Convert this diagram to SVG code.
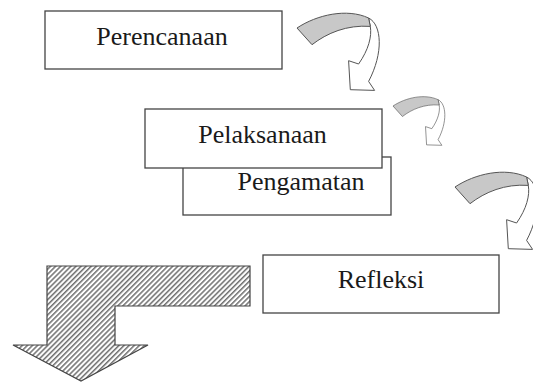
<svg xmlns="http://www.w3.org/2000/svg" xmlns:xlink="http://www.w3.org/1999/xlink" width="533" height="383" viewBox="0 0 533 383">
<style>
.box{fill:#fff;stroke:#444;stroke-width:1.3}
.lbl{font-family:"Liberation Serif","Times New Roman",serif;font-size:26px;fill:#1a1a1a;text-anchor:middle}
.band{fill:#c8c8c8;stroke:#555;stroke-width:1}
.shaft{fill:#fff;stroke:#555;stroke-width:1;stroke-linejoin:miter}
</style>
<defs>
<pattern id="hatch" width="3.6" height="3.6" patternUnits="userSpaceOnUse" patternTransform="rotate(45)">
<rect width="3.6" height="3.6" fill="#fff"/>
<line x1="0.8" y1="0" x2="0.8" y2="3.6" stroke="#3a3a3a" stroke-width="1.1"/>
</pattern>
<g id="curl">
<path class="shaft" d="M71.6,-10 C85,-3.3 86.6,25 71.6,53.4 L77.6,62.4 L53.3,61.7 L51.6,32.7 L61.6,36 C71.6,21.7 75,8.4 73.3,-1.6 Z"/>
<path class="band" d="M0,0 C20,-13.3 50,-20 71.6,-10 L73.3,-1.6 C50,-3.3 30,5 15,16.7 Z"/>
</g>
</defs>
<g id="connectors">
<use xlink:href="#curl" href="#curl" transform="translate(297,28)"/>
<use xlink:href="#curl" href="#curl" transform="translate(393,106) scale(0.63)"/>
<use xlink:href="#curl" href="#curl" transform="translate(455,187)"/>
<path id="exit-arrow" d="M47,266 L250,266 L250,306 L115,306 L115,345 L148,345 L81,381 L13,345 L47,345 Z" fill="url(#hatch)" stroke="#444" stroke-width="1.2"/>
</g>
<g id="perencanaan">
<rect class="box" x="45" y="11" width="237" height="58"/>
<text class="lbl" x="162" y="45">Perencanaan</text>
</g>
<g id="pengamatan">
<rect class="box" x="183" y="157" width="208" height="58"/>
<text class="lbl" x="301" y="190">Pengamatan</text>
</g>
<g id="pelaksanaan">
<rect class="box" x="145" y="109" width="237" height="59"/>
<text class="lbl" x="262.5" y="143">Pelaksanaan</text>
</g>
<g id="refleksi">
<rect class="box" x="263" y="255" width="236" height="58"/>
<text class="lbl" x="381" y="288">Refleksi</text>
</g>
</svg>
